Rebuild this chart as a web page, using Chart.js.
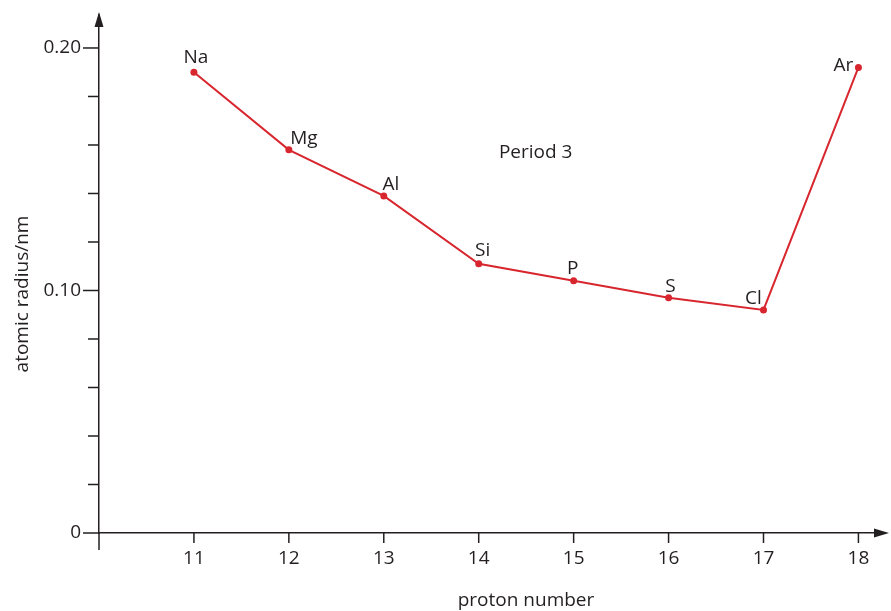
<!DOCTYPE html>
<html>
<head>
<meta charset="utf-8">
<script src="https://cdn.jsdelivr.net/npm/chart.js@4"></script>
<style>
  html, body { margin: 0; padding: 0; background: #fff; }
  #wrap { width: 891px; height: 611px; }
</style>
</head>
<body>
<div id="wrap"><canvas id="radiusChart"></canvas></div>
<script>
// period 3 atomic radii
var protonNumbers = [11, 12, 13, 14, 15, 16, 17, 18];
var elementSymbols = ["Na", "Mg", "Al", "Si", "P", "S", "Cl", "Ar"];
var atomicRadii = [0.190, 0.158, 0.139, 0.111, 0.104, 0.097, 0.092, 0.192];
var yTickValues = [0, 0.02, 0.04, 0.06, 0.08, 0.10, 0.12, 0.14, 0.16, 0.18, 0.20];
var yLabelValues = [0, 0.10, 0.20];
var yLabelTexts = ["0", "0.10", "0.20"];

var inkColor = '#231f20';
var lineColor = '#d8262e';
var fontFamily = "'Open Sans', sans-serif";
var fontSize = 19;

// label offsets from each point (px): dx, dy
var labelOffsets = [[2, -9], [15, -6], [7, -6], [4, -8], [-1, -7], [2, -6], [-10, -6], [-15, 4]];

var points = protonNumbers.map(function (p, i) {
  return {x: p, y: atomicRadii[i]};
});

var axisExtras = {
  id: 'axisExtras',
  afterDraw: function (chart) {
    var ctx = chart.ctx;
    var xs = chart.scales.x, ys = chart.scales.y;
    var area = chart.chartArea;
    ctx.save();
    ctx.strokeStyle = inkColor;
    ctx.fillStyle = inkColor;
    ctx.lineWidth = 1.5;

    // y ticks, long ones where there is a label
    yTickValues.forEach(function (v) {
      var py = ys.getPixelForValue(v);
      var major = yLabelValues.some(function (m) { return Math.abs(m - v) < 1e-9; });
      ctx.beginPath();
      ctx.moveTo(area.left - (major ? 16 : 11), py);
      ctx.lineTo(area.left, py);
      ctx.stroke();
    });
    // x ticks
    protonNumbers.forEach(function (p) {
      var px = xs.getPixelForValue(p);
      ctx.beginPath();
      ctx.moveTo(px, area.bottom);
      ctx.lineTo(px, area.bottom + 10);
      ctx.stroke();
    });
    // origin extension below the x axis
    ctx.beginPath();
    ctx.moveTo(area.left, area.bottom);
    ctx.lineTo(area.left, area.bottom + 17);
    ctx.stroke();

    // arrows
    ctx.beginPath();
    ctx.moveTo(area.left, area.top - 3);
    ctx.lineTo(area.left - 4.5, area.top + 12);
    ctx.lineTo(area.left + 4.5, area.top + 12);
    ctx.closePath();
    ctx.fill();
    ctx.beginPath();
    ctx.moveTo(area.right + 4, area.bottom);
    ctx.lineTo(area.right - 11, area.bottom - 4.5);
    ctx.lineTo(area.right - 11, area.bottom + 4.5);
    ctx.closePath();
    ctx.fill();

    ctx.font = fontSize + "px " + fontFamily;

    // y labels
    ctx.textAlign = 'right';
    ctx.textBaseline = 'middle';
    yLabelValues.forEach(function (v, i) {
      ctx.fillText(yLabelTexts[i], area.left - 18, ys.getPixelForValue(v));
    });

    // element labels
    ctx.textAlign = 'center';
    ctx.textBaseline = 'alphabetic';
    points.forEach(function (pt, i) {
      var px = xs.getPixelForValue(pt.x) + labelOffsets[i][0];
      var py = ys.getPixelForValue(pt.y) + labelOffsets[i][1];
      ctx.fillText(elementSymbols[i], px, py);
    });

    // period label
    ctx.fillText("Period 3", xs.getPixelForValue(14.6), ys.getPixelForValue(0.1546));

    // axis titles
    ctx.fillText("proton number", 526, 606);
    ctx.save();
    ctx.translate(28, 294);
    ctx.rotate(-Math.PI / 2);
    ctx.fillText("atomic radius/nm", 0, 0);
    ctx.restore();
    ctx.restore();
  }
};

var ctx = document.getElementById("radiusChart");
var radiusChartObj = new Chart(ctx, {
  type: 'line',
  data: {
    datasets: [{
      label: 'atomic radius',
      data: points,
      borderColor: lineColor,
      backgroundColor: lineColor,
      borderWidth: 2,
      pointRadius: 3.5,
      pointBorderWidth: 0,
      tension: 0
    }]
  },
  options: {
    responsive: true,
    maintainAspectRatio: false,
    animation: false,
    layout: { padding: { left: 0, top: 15, right: 6, bottom: 0 } },
    plugins: {
      legend: { display: false },
      tooltip: { enabled: false }
    },
    scales: {
      x: {
        type: 'linear',
        min: 10,
        max: 18.28,
        afterBuildTicks: function (scale) {
          scale.ticks = protonNumbers.map(function (p) { return {value: p}; });
        },
        afterFit: function (scale) { scale.height = 78; },
        grid: { display: false, drawTicks: false },
        border: { display: true, color: inkColor, width: 1.5 },
        ticks: {
          padding: 14,
          color: inkColor,
          font: { family: fontFamily, size: fontSize }
        }
      },
      y: {
        type: 'linear',
        min: 0,
        max: 0.2136,
        afterFit: function (scale) { scale.width = 99; },
        grid: { display: false, drawTicks: false },
        border: { display: true, color: inkColor, width: 1.5 },
        ticks: { display: false }
      }
    }
  },
  plugins: [axisExtras]
});
</script>
</body>
</html>
